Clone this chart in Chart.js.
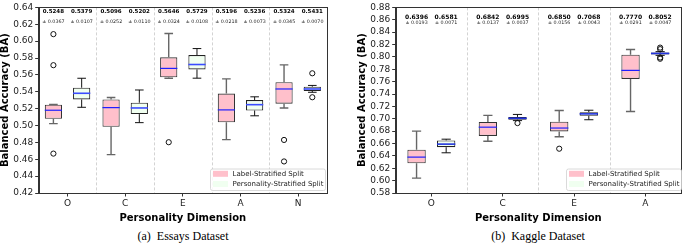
<!DOCTYPE html>
<html>
<head>
<meta charset="utf-8">
<script src="https://cdn.jsdelivr.net/npm/chart.js@4.4.0/dist/chart.umd.min.js"></script>
<style>
  body { margin: 0; background: #fff; width: 685px; height: 244px; position: relative; overflow: hidden; }
  canvas { position: absolute; top: 0; }
  #essays { left: 0; }
  #kaggle { left: 357px; }
  .cap { position: absolute; top: 229px; font-family: "Liberation Serif", serif; font-size: 12px; color: #000; white-space: pre; transform: translateX(-50%); }
</style>
</head>
<body>
<canvas id="essays" width="335" height="228"></canvas>
<canvas id="kaggle" width="328" height="228"></canvas>
<div class="cap" style="left:183px">(a)  Essays Dataset</div>
<div class="cap" style="left:538px">(b)  Kaggle Dataset</div>
<script>
// Essays: [whisker lo, q1, median, q3, whisker hi]
const essaysCats = ['O', 'C', 'E', 'A', 'N'];
const essaysLabel = [
  [0.5022, 0.5080, 0.5181, 0.5247, 0.5250],
  [0.4655, 0.4984, 0.5212, 0.5309, 0.5332],
  [0.5561, 0.5572, 0.5677, 0.5808, 0.6090],
  [0.4833, 0.5038, 0.5185, 0.5378, 0.5553],
  [0.5208, 0.5259, 0.5433, 0.5514, 0.5719]
];
const essaysLabelOut = [[0.6083, 0.5715, 0.4667], [], [0.4802], [], [0.4829, 0.4574]];
const essaysPers = [
  [0.5216, 0.5309, 0.5382, 0.5448, 0.5560],
  [0.5034, 0.5135, 0.5208, 0.5270, 0.5421],
  [0.5561, 0.5665, 0.5723, 0.5835, 0.5912],
  [0.5115, 0.5178, 0.5247, 0.5301, 0.5340],
  [0.5394, 0.5410, 0.5433, 0.5460, 0.5475]
];
const essaysPersOut = [[], [], [], [], [0.5619, 0.5335]];
const essaysLabelMean = ['0.5248', '0.5096', '0.5646', '0.5196', '0.5324'];
const essaysLabelStd = ['0.0367', '0.0252', '0.0324', '0.0218', '0.0345'];
const essaysPersMean = ['0.5379', '0.5202', '0.5729', '0.5236', '0.5431'];
const essaysPersStd = ['0.0107', '0.0110', '0.0108', '0.0073', '0.0070'];

// Kaggle
const kaggleCats = ['O', 'C', 'E', 'A'];
const kaggleLabel = [
  [0.6040, 0.6280, 0.6380, 0.6500, 0.6800],
  [0.6636, 0.6722, 0.6864, 0.6948, 0.7054],
  [0.6710, 0.6795, 0.6850, 0.6953, 0.7133],
  [0.7117, 0.7644, 0.7782, 0.8035, 0.8119]
];
const kaggleLabelOut = [[], [], [0.6516], []];
const kagglePers = [
  [0.6450, 0.6540, 0.6590, 0.6650, 0.6670],
  [0.6970, 0.6984, 0.7008, 0.7030, 0.7070],
  [0.6984, 0.7048, 0.7079, 0.7106, 0.7138],
  [0.8025, 0.8040, 0.8056, 0.8070, 0.8085]
];
const kagglePersOut = [[], [0.6930], [], [0.8150, 0.8125, 0.7990, 0.7970]];
const kaggleLabelMean = ['0.6396', '0.6842', '0.6850', '0.7770'];
const kaggleLabelStd = ['0.0193', '0.0137', '0.0156', '0.0291'];
const kagglePersMean = ['0.6581', '0.6995', '0.7068', '0.8052'];
const kagglePersStd = ['0.0071', '0.0037', '0.0043', '0.0047'];

const seriesNames = ['Label-Stratified Split', 'Personality-Stratified Split'];

Chart.defaults.font.family = '"DejaVu Sans", sans-serif';
Chart.defaults.color = '#222';

const PINK = '#ffc0cb';
const GREEN = '#f0fff0';

// whiskers, medians, fliers, separators, mean labels, legend
const boxPlugin = {
  id: 'boxes',
  beforeDatasetsDraw(chart) {
    const { ctx, chartArea: a, scales: { x } } = chart;
    const n = chart.data.labels.length;
    ctx.save();
    ctx.strokeStyle = '#c8c8c8';
    ctx.lineWidth = 0.8;
    ctx.setLineDash([3, 2]);
    for (let k = 1; k < n; k++) {
      const px = Math.round((x.getPixelForValue(k - 1) + x.getPixelForValue(k)) / 2) + 0.5;
      ctx.beginPath();
      ctx.moveTo(px, a.top);
      ctx.lineTo(px, a.bottom);
      ctx.stroke();
    }
    ctx.restore();
  },
  afterDatasetsDraw(chart) {
    const { ctx, scales: { y } } = chart;
    const cfg = chart.options.plugins.boxes;
    chart.data.datasets.forEach((ds, i) => {
      const meta = chart.getDatasetMeta(i);
      const st = cfg.styles[i];
      meta.data.forEach((el, j) => {
        const [lo, q1, med, q3, hi] = ds.stats[j];
        const cx = el.x, w = el.width;
        ctx.save();
        ctx.strokeStyle = st.whisker;
        ctx.lineWidth = st.whiskerWidth;
        ctx.beginPath();
        ctx.moveTo(cx, y.getPixelForValue(q3)); ctx.lineTo(cx, y.getPixelForValue(hi));
        ctx.moveTo(cx, y.getPixelForValue(q1)); ctx.lineTo(cx, y.getPixelForValue(lo));
        ctx.moveTo(cx - w / 4, y.getPixelForValue(hi)); ctx.lineTo(cx + w / 4, y.getPixelForValue(hi));
        ctx.moveTo(cx - w / 4, y.getPixelForValue(lo)); ctx.lineTo(cx + w / 4, y.getPixelForValue(lo));
        ctx.stroke();
        ctx.strokeStyle = st.median;
        ctx.lineWidth = st.medianWidth;
        ctx.beginPath();
        ctx.moveTo(cx - w / 2, y.getPixelForValue(med));
        ctx.lineTo(cx + w / 2, y.getPixelForValue(med));
        ctx.stroke();
        ctx.strokeStyle = '#111';
        ctx.lineWidth = 1;
        ds.outliers[j].forEach(v => {
          ctx.beginPath();
          ctx.arc(cx, y.getPixelForValue(v), 2.6, 0, Math.PI * 2);
          ctx.stroke();
        });
        ctx.restore();
      });
    });
  },
  afterDraw(chart) {
    const { ctx, chartArea: a } = chart;
    const cfg = chart.options.plugins.boxes;
    ctx.save();
    ctx.strokeStyle = '#333';
    ctx.lineWidth = 1;
    ctx.strokeRect(Math.round(a.left) + 0.5, Math.round(a.top) + 0.5, Math.round(a.right - a.left), Math.round(a.bottom - a.top));

    // mean ± std labels
    ctx.textAlign = 'center';
    ctx.textBaseline = 'middle';
    chart.data.datasets.forEach((ds, i) => {
      chart.getDatasetMeta(i).data.forEach((el, j) => {
        ctx.fillStyle = '#000';
        ctx.font = 'bold ' + cfg.meanSize + 'px "DejaVu Sans"';
        ctx.fillText(ds.means[j], el.x, a.top + cfg.meanY);
        ctx.font = cfg.stdSize + 'px "DejaVu Sans"';
        ctx.fillStyle = '#222';
        ctx.fillText('± ' + ds.stds[j], el.x, a.top + cfg.stdY);
      });
    });

    // legend
    const lw = 115, lh = 21.5;
    const lx = a.right - cfg.legendRight - lw, ly = a.bottom - 3 - lh;
    ctx.fillStyle = 'rgba(255,255,255,0.85)';
    ctx.strokeStyle = '#d0d0d0';
    ctx.lineWidth = 0.8;
    ctx.beginPath();
    ctx.roundRect(lx + 0.5, ly + 0.5, lw, lh, 2);
    ctx.fill();
    ctx.stroke();
    ctx.textAlign = 'left';
    ctx.font = '7px "DejaVu Sans"';
    [PINK, GREEN].forEach((c, k) => {
      const ey = ly + 5.3 + k * 10.2;
      ctx.fillStyle = c;
      ctx.fillRect(lx + 3, ey - 3, 15, 6);
      ctx.fillStyle = '#222';
      ctx.fillText(seriesNames[k], lx + 22.5, ey);
    });
    ctx.restore();
  }
};

function makeChart(id, cats, labelBoxes, persBoxes, labelOut, persOut, means, stds, opt) {
  const mk = (boxes, outs, k, fill, border) => ({
    label: seriesNames[k],
    data: boxes.map(b => [b[1], b[3]]),
    stats: boxes,
    outliers: outs,
    means: means[k],
    stds: stds[k],
    backgroundColor: fill,
    borderColor: border,
    borderWidth: 1.1,
    borderSkipped: false,
    categoryPercentage: opt.catPct,
    barPercentage: opt.barPct
  });
  return new Chart(document.getElementById(id), {
    type: 'bar',
    data: {
      labels: cats,
      datasets: [
        mk(labelBoxes, labelOut, 0, PINK, '#333'),
        mk(persBoxes, persOut, 1, GREEN, '#222')
      ]
    },
    options: {
      responsive: false,
      animation: false,
      layout: { padding: { top: 4, right: opt.padRight, left: 0, bottom: 0 } },
      plugins: {
        legend: { display: false },
        tooltip: { enabled: false },
        boxes: {
          styles: [
            { whisker: '#666', whiskerWidth: 1.4, median: '#1f1fff', medianWidth: 1.2 },
            { whisker: '#111', whiskerWidth: 1, median: opt.persMedian, medianWidth: 1.6 }
          ],
          meanY: opt.meanY, stdY: opt.stdY, meanSize: opt.meanSize, stdSize: opt.stdSize,
          legendRight: opt.legendRight
        }
      },
      scales: {
        x: {
          ticks: { font: { size: 9 }, color: '#222', padding: 2 },
          grid: { offset: false, drawOnChartArea: false, tickLength: 3.5, color: '#333' },
          border: { color: '#333' },
          title: { display: true, text: 'Personality Dimension', color: '#000', font: { size: 10, weight: 'bold' }, padding: { top: 0, bottom: 4 } },
          afterFit(s) { s.height = 35; }
        },
        y: {
          min: opt.min, max: opt.max,
          ticks: { stepSize: 0.02, autoSkip: false, font: { size: 9 }, color: '#222', padding: 2, callback: v => v.toFixed(2) },
          grid: { drawOnChartArea: false, tickLength: 3.5, color: '#333' },
          border: { color: '#333' },
          title: { display: true, text: 'Balanced Accuracy (BA)', color: '#000', font: { size: 10, weight: 'bold', lineHeight: 1 }, padding: 0 },
          afterFit(s) { s.width = 38.7; }
        }
      }
    },
    plugins: [boxPlugin]
  });
}

makeChart('essays', essaysCats, essaysLabel, essaysPers, essaysLabelOut, essaysPersOut,
  [essaysLabelMean, essaysPersMean], [essaysLabelStd, essaysPersStd],
  { min: 0.42, max: 0.64, catPct: 0.98, barPct: 0.61, padRight: 8, meanY: 4.5, stdY: 14, meanSize: 5.5, stdSize: 4.8, legendRight: 2, persMedian: '#3a4cff' });

makeChart('kaggle', kaggleCats, kaggleLabel, kagglePers, kaggleLabelOut, kagglePersOut,
  [kaggleLabelMean, kagglePersMean], [kaggleLabelStd, kagglePersStd],
  { min: 0.58, max: 0.88, catPct: 0.83, barPct: 0.62, padRight: 4, meanY: 10, stdY: 15.5, meanSize: 6, stdSize: 4.8, legendRight: 0, persMedian: '#2233dd' });
</script>
</body>
</html>
